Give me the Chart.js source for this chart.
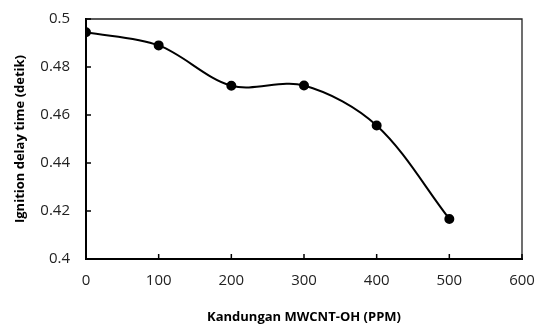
<!DOCTYPE html>
<html>
<head>
<meta charset="utf-8">
<script src="https://cdn.jsdelivr.net/npm/chart.js@4/dist/chart.umd.min.js"></script>
<style>
  html, body { margin: 0; padding: 0; background: #fff; }
  #wrap { width: 539px; height: 326px; }
</style>
</head>
<body>
<div id="wrap"><canvas id="chart-delay"></canvas></div>
<script>
const concentrations = [0, 100, 200, 300, 400, 500]
const ignitionDelay = [0.4945, 0.489, 0.4722, 0.4723, 0.4556, 0.4167]
const xTicks = [0, 100, 200, 300, 400, 500, 600]
const yTicks = [0.4, 0.42, 0.44, 0.46, 0.48, 0.5]

const tickFont = { family: "'Open Sans', sans-serif", size: 15 }
const titleFont = { family: "'Open Sans', sans-serif", size: 13, weight: "bold" }

// Excel style: inside ticks, thin top/right frame
const framePlugin = {
    id: "frame",
    afterDatasetsDraw(chart) {
        const { ctx, chartArea: a, scales } = chart
        ctx.save()
        ctx.strokeStyle = "#222"
        ctx.lineWidth = 1.3
        ctx.beginPath()
        ctx.moveTo(a.left, a.top)
        ctx.lineTo(a.right, a.top)
        ctx.lineTo(a.right, a.bottom)
        ctx.stroke()

        ctx.strokeStyle = "#000"
        ctx.lineWidth = 1.5
        ctx.beginPath()
        for (const v of xTicks) {
            const px = scales.x.getPixelForValue(v)
            ctx.moveTo(px, a.bottom)
            ctx.lineTo(px, a.bottom - 5)
        }
        for (const v of yTicks) {
            const py = scales.y.getPixelForValue(v)
            ctx.moveTo(a.left, py)
            ctx.lineTo(a.left + 5, py)
        }
        ctx.stroke()
        ctx.restore()
    }
}

const ctx = document.getElementById("chart-delay").getContext("2d")
const chart = new Chart(ctx, {
    type: "scatter",
    data: {
        datasets: [{
            label: "Ignition delay time",
            data: concentrations.map((x, i) => ({ x, y: ignitionDelay[i] })),
            showLine: true,
            tension: 0.33,
            borderColor: "#000",
            borderWidth: 2,
            pointBackgroundColor: "#000",
            pointBorderColor: "#000",
            pointRadius: 4
        }]
    },
    options: {
        responsive: true,
        maintainAspectRatio: false,
        animation: false,
        layout: { padding: { top: 19, right: 17, left: 0, bottom: 0 } },
        plugins: {
            legend: { display: false },
            tooltip: { enabled: false }
        },
        scales: {
            x: {
                type: "linear",
                min: 0,
                max: 600,
                afterBuildTicks: (scale) => { scale.ticks = xTicks.map((value) => ({ value })) },
                afterFit: (scale) => {
                    scale.height = 67
                    scale.paddingLeft = 0
                    scale.paddingRight = 0
                },
                grid: { display: false, drawTicks: false },
                border: { color: "#000", width: 2 },
                ticks: { color: "#222", font: tickFont, padding: 13 },
                title: {
                    display: true,
                    text: "Kandungan MWCNT-OH (PPM)",
                    color: "#000",
                    font: titleFont,
                    padding: { top: 0, bottom: 1 }
                }
            },
            y: {
                min: 0.4,
                max: 0.5,
                afterBuildTicks: (scale) => { scale.ticks = yTicks.map((value) => ({ value })) },
                afterFit: (scale) => {
                    scale.width = 86
                    scale.paddingTop = 0
                    scale.paddingBottom = 0
                },
                grid: { display: false, drawTicks: false },
                border: { color: "#000", width: 2 },
                ticks: {
                    color: "#222",
                    font: tickFont,
                    padding: 16,
                    callback: (v) => String(Math.round(v * 100) / 100)
                },
                title: {
                    display: true,
                    text: "Ignition delay time (detik)",
                    color: "#000",
                    font: titleFont,
                    padding: { top: 12, bottom: 0 }
                }
            }
        }
    },
    plugins: [framePlugin]
})
</script>
</body>
</html>
